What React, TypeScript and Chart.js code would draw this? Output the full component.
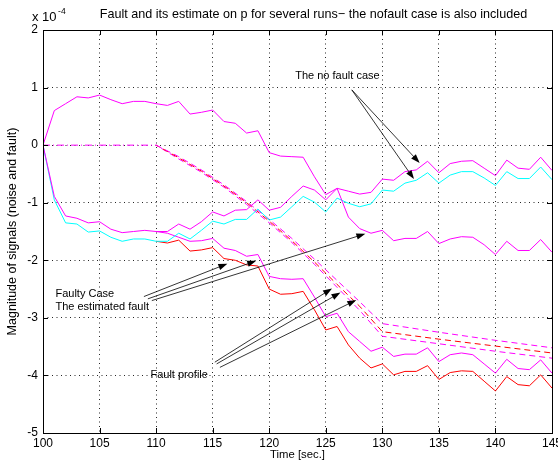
import { useEffect, useRef } from 'react';
import { Chart, registerables } from 'chart.js';

Chart.register(...registerables);

// ---- data (values in units of 1e-4) ----
const timeAll = [100, 101, 102, 103, 104, 105, 106, 107, 108, 109, 110, 111, 112, 113, 114, 115, 116, 117, 118, 119, 120, 121, 122, 123, 124, 125, 126, 127, 128, 129, 130, 131, 132, 133, 134, 135, 136, 137, 138, 139, 140, 141, 142, 143, 144, 145];
const faultTime = [110, 111, 112, 113, 114, 115, 116, 117, 118, 119, 120, 121, 122, 123, 124, 125, 126, 127, 128, 129, 130, 131, 132, 133, 134, 135, 136, 137, 138, 139, 140, 141, 142, 143, 144, 145];
const profileTime = [110, 112, 114, 116, 118, 120, 122, 124, 126, 128, 130, 135, 140, 145];
const preFaultTime = [100, 110];
const preFaultValues = [0, 0];

// faulty run starting above zero (upper magenta)
const runUpper = [0, 0.6, 0.72, 0.84, 0.82, 0.87, 0.79, 0.72, 0.76, 0.76, 0.72, 0.69, 0.76, 0.54, 0.57, 0.61, 0.41, 0.38, 0.21, 0.25, -0.13, -0.19, -0.2, -0.21, -0.55, -0.86, -0.75, -1.25, -1.45, -1.53, -1.48, -1.66, -1.62, -1.62, -1.5, -1.71, -1.63, -1.59, -1.6, -1.73, -1.9, -1.67, -1.83, -1.83, -1.64, -1.86];
// no fault case (magenta)
const noFaultMagenta = [0, -0.89, -1.23, -1.27, -1.35, -1.33, -1.46, -1.52, -1.5, -1.48, -1.5, -1.5, -1.37, -1.46, -1.33, -1.16, -1.23, -1.13, -1.12, -0.95, -1.13, -1.08, -0.89, -0.71, -0.78, -0.95, -0.75, -0.8, -0.85, -0.82, -0.59, -0.61, -0.46, -0.43, -0.28, -0.48, -0.32, -0.28, -0.27, -0.4, -0.53, -0.26, -0.4, -0.42, -0.21, -0.44];
// no fault case (cyan)
const noFaultCyan = [0, -0.95, -1.35, -1.37, -1.51, -1.49, -1.6, -1.67, -1.63, -1.63, -1.67, -1.67, -1.53, -1.63, -1.48, -1.32, -1.37, -1.29, -1.29, -1.11, -1.3, -1.25, -1.07, -0.89, -0.99, -1.16, -0.92, -1.01, -1.07, -1.02, -0.78, -0.8, -0.66, -0.61, -0.48, -0.66, -0.52, -0.46, -0.46, -0.57, -0.7, -0.46, -0.58, -0.58, -0.38, -0.6];
// faulty runs from 110 s
const faultyMagenta = [-1.5, -1.53, -1.6, -1.67, -1.66, -1.62, -1.79, -1.83, -1.93, -1.9, -2.28, -2.32, -2.33, -2.32, -2.64, -2.98, -2.92, -3.24, -3.41, -3.58, -3.51, -3.67, -3.63, -3.63, -3.52, -3.76, -3.64, -3.61, -3.64, -3.8, -3.96, -3.72, -3.88, -3.9, -3.73, -3.96];
const faultyRed = [-1.67, -1.7, -1.65, -1.84, -1.82, -1.78, -1.97, -2.0, -2.08, -2.1, -2.5, -2.59, -2.58, -2.54, -2.86, -3.21, -3.15, -3.47, -3.7, -3.87, -3.8, -3.99, -3.93, -3.93, -3.83, -4.07, -3.95, -3.92, -3.93, -4.1, -4.27, -4.02, -4.16, -4.18, -3.99, -4.22];
// fault profile / estimates (dashed)
const profileUpper = [0, -0.2, -0.43, -0.69, -0.98, -1.29, -1.62, -1.98, -2.35, -2.72, -3.1, -3.25, -3.39, -3.52];
const profileRed = [0, -0.22, -0.45, -0.71, -1.0, -1.32, -1.66, -2.03, -2.42, -2.8, -3.24, -3.37, -3.49, -3.61];
const profileLower = [0, -0.24, -0.47, -0.73, -1.03, -1.35, -1.69, -2.07, -2.47, -2.87, -3.32, -3.45, -3.58, -3.7];

const xTicks = [100, 105, 110, 115, 120, 125, 130, 135, 140, 145];
const yTicks = [2, 1, 0, -1, -2, -3, -4, -5];

const titleText = 'Fault and its estimate on p for several runs\u2212 the nofault case is also included';
const xTitle = 'Time [sec.]';
const yTitle = 'Magnitude of signals (noise and fault)';

// annotations in data coordinates
const noFaultLabel = { text: 'The no fault case', x: 122.3, y: 1.21 };
const noFaultArrows = [
  [127.3, 0.96, 133.3, -0.31],
  [127.3, 0.96, 132.8, -0.59],
];
const faultyLabels = [
  { text: 'Faulty Case', x: 101.1, y: -2.59 },
  { text: 'The estimated fault', x: 101.1, y: -2.81 },
];
const faultyArrows = [
  [108.92, -2.63, 116.3, -2.06],
  [109.27, -2.67, 118.85, -2.01],
  [109.62, -2.7, 128.5, -1.54],
];
const profileLabel = { text: 'Fault profile', x: 109.5, y: -4.0 };
const profileArrows = [
  [115.19, -3.77, 125.55, -2.49],
  [115.35, -3.8, 126.3, -2.56],
  [115.64, -3.86, 127.7, -2.69],
];

const FONT = '"Liberation Sans", Arial, Helvetica, sans-serif';

const pts = (xs: number[], ys: number[]) => xs.map((x, i) => ({ x, y: ys[i] }));

const overlay = {
  id: 'matlabOverlay',
  afterDraw(chart: any) {
    const { ctx, chartArea: a, scales } = chart;
    const xs = scales.x;
    const ys = scales.y;
    const px = (v: number) => xs.getPixelForValue(v);
    const py = (v: number) => ys.getPixelForValue(v);
    ctx.save();
    // frame
    ctx.strokeStyle = '#000';
    ctx.lineWidth = 1;
    ctx.setLineDash([]);
    ctx.strokeRect(Math.round(a.left) + 0.5, Math.round(a.top) + 0.5, Math.round(a.right - a.left), Math.round(a.bottom - a.top));
    // inner ticks
    ctx.beginPath();
    xTicks.forEach((t) => {
      const x = Math.round(px(t)) + 0.5;
      ctx.moveTo(x, a.bottom);
      ctx.lineTo(x, a.bottom - 5);
      ctx.moveTo(x, a.top);
      ctx.lineTo(x, a.top + 5);
    });
    yTicks.forEach((t) => {
      const y = Math.round(py(t)) + 0.5;
      ctx.moveTo(a.left, y);
      ctx.lineTo(a.left + 5, y);
      ctx.moveTo(a.right, y);
      ctx.lineTo(a.right - 5, y);
    });
    ctx.stroke();

    // title
    ctx.fillStyle = '#000';
    ctx.font = `12.6px ${FONT}`;
    ctx.textBaseline = 'middle';
    ctx.textAlign = 'center';
    ctx.fillText(titleText, (a.left + a.right) / 2 + 16, 15);
    // exponent label
    ctx.textAlign = 'left';
    ctx.font = `13px ${FONT}`;
    const baseX = a.left - 11;
    ctx.fillText('x 10', baseX, 17);
    const w = ctx.measureText('x 10').width;
    ctx.font = `8.5px ${FONT}`;
    ctx.fillText('-4', baseX + w + 1.5, 11.5);

    // annotation texts
    ctx.font = `11px ${FONT}`;
    ctx.textAlign = 'left';
    [noFaultLabel, ...faultyLabels, profileLabel].forEach((l) => {
      ctx.fillText(l.text, px(l.x), py(l.y));
    });

    // arrows
    const arrow = (d: number[]) => {
      const x1 = px(d[0]);
      const y1 = py(d[1]);
      const x2 = px(d[2]);
      const y2 = py(d[3]);
      const ang = Math.atan2(y2 - y1, x2 - x1);
      const len = 9;
      const hw = 3.2;
      ctx.strokeStyle = '#000';
      ctx.lineWidth = 0.8;
      ctx.beginPath();
      ctx.moveTo(x1, y1);
      ctx.lineTo(x2 - Math.cos(ang) * len * 0.8, y2 - Math.sin(ang) * len * 0.8);
      ctx.stroke();
      ctx.beginPath();
      ctx.moveTo(x2, y2);
      ctx.lineTo(x2 - Math.cos(ang) * len - Math.sin(ang) * hw, y2 - Math.sin(ang) * len + Math.cos(ang) * hw);
      ctx.lineTo(x2 - Math.cos(ang) * len + Math.sin(ang) * hw, y2 - Math.sin(ang) * len - Math.cos(ang) * hw);
      ctx.closePath();
      ctx.fillStyle = '#000';
      ctx.fill();
    };
    [...noFaultArrows, ...faultyArrows, ...profileArrows].forEach(arrow);
    ctx.restore();
  },
};

export default function App() {
  const ref = useRef<HTMLCanvasElement | null>(null);
  useEffect(() => {
    document.body.style.margin = '0';
    if (!ref.current) return;
    const line = (data: any[], color: string, extra: any = {}) => ({
      data,
      borderColor: color,
      backgroundColor: color,
      borderWidth: 1,
      pointRadius: 0,
      tension: 0,
      fill: false,
      ...extra,
    });
    const chart = new Chart(ref.current, {
      type: 'line',
      data: {
        datasets: [
          line(pts(timeAll, runUpper), '#ff00ff'),
          line(pts(timeAll, noFaultMagenta), '#ff00ff'),
          line(pts(timeAll, noFaultCyan), '#00ffff'),
          line(pts(faultTime, faultyMagenta), '#ff00ff'),
          line(pts(faultTime, faultyRed), '#ff0000'),
          line(pts(preFaultTime, preFaultValues), '#ff00ff', { borderDash: [7, 3, 1, 3] }),
          line(pts(profileTime, profileUpper), '#ff00ff', { borderDash: [6, 4] }),
          line(pts(profileTime, profileRed), '#ff0000', { borderDash: [6, 4], borderDashOffset: 2 }),
          line(pts(profileTime, profileLower), '#ff00ff', { borderDash: [6, 4], borderDashOffset: 4 }),
        ],
      },
      options: {
        responsive: false,
        animation: false,
        events: [],
        layout: { padding: { top: 30, right: 6, left: 0, bottom: 0 } },
        plugins: { legend: { display: false }, tooltip: { enabled: false }, title: { display: false } },
        scales: {
          x: {
            type: 'linear',
            min: 100,
            max: 145,
            afterBuildTicks: (s: any) => {
              s.ticks = xTicks.map((v) => ({ value: v }));
            },
            afterFit: (s: any) => {
              s.height = 29;
              s.paddingLeft = 0;
              s.paddingRight = 0;
            },
            ticks: { color: '#000', font: { family: FONT, size: 12 }, padding: 3, maxRotation: 0, autoSkip: false },
            grid: { color: 'rgba(0,0,0,0.85)', lineWidth: 1, drawTicks: false },
            border: { display: false, dash: [1, 3.5] },
            title: { display: true, text: xTitle, color: '#000', font: { family: FONT, size: 11.3 }, padding: { top: 0, bottom: 0 } },
          },
          y: {
            type: 'linear',
            min: -5,
            max: 2,
            afterBuildTicks: (s: any) => {
              s.ticks = yTicks.map((v) => ({ value: v }));
            },
            afterFit: (s: any) => {
              s.width = 43;
              s.paddingTop = 0;
              s.paddingBottom = 0;
            },
            ticks: { color: '#000', font: { family: FONT, size: 12 }, padding: 5, autoSkip: false },
            grid: { color: 'rgba(0,0,0,0.85)', lineWidth: 1, drawTicks: false },
            border: { display: false, dash: [1, 3.5] },
            title: { display: true, text: yTitle, color: '#000', font: { family: FONT, size: 12.5 }, padding: { top: 5, bottom: 0 } },
          },
        },
      },
      plugins: [overlay],
    });
    return () => chart.destroy();
  }, []);
  return (
    <div style={{ position: 'absolute', left: 0, top: 0, width: 558, height: 462 }}>
      <canvas ref={ref} width={558} height={462} style={{ display: 'block' }} />
    </div>
  );
}
